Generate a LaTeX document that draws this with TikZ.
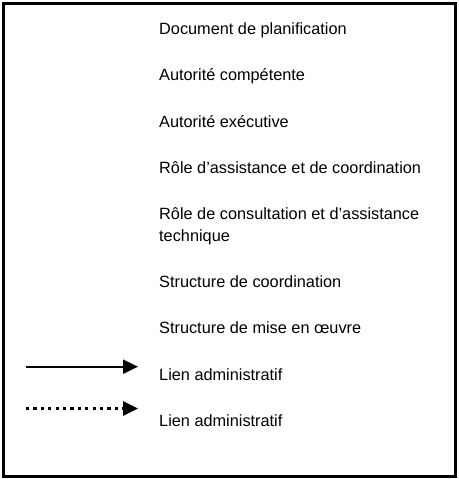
\documentclass[tikz,border=0pt]{standalone}
\usepackage{fontspec}
\setmainfont{Liberation Sans}
\usetikzlibrary{arrows.meta}
\begin{document}
\begin{tikzpicture}[x=1pt,y=-1pt,
  legtext/.style={anchor=base west,inner sep=0pt,font=\fontsize{16.3}{22}\selectfont},
  legarrow/.style={line width=2pt,-{Triangle[length=15pt,width=14pt]}},
  legdots/.style={line width=3pt,dash pattern=on 3.2pt off 4.2pt,-{Triangle[length=15pt,width=14pt]}}]
\useasboundingbox (0,0) rectangle (458,479);
\draw[line width=3pt] (3.5,3.5) rectangle (455,476.5);
\node[legtext] (t1) at (159,34) {Document de planification};
\node[legtext] (t2) at (159,80) {Autorité compétente};
\node[legtext] (t3) at (159,127) {Autorité exécutive};
\node[legtext] (t4) at (159,173) {Rôle d’assistance et de coordination};
\node[legtext] (t5) at (159,219) {Rôle de consultation et d’assistance};
\node[legtext] (t5b) at (159,241) {technique};
\node[legtext] (t6) at (159,287) {Structure de coordination};
\node[legtext] (t7) at (159,333) {Structure de mise en œuvre};
\node[legtext] (t8) at (159,380) {Lien administratif};
\node[legtext] (t9) at (159,426) {Lien administratif};
\coordinate (a1s) at (26,366.7);
\coordinate (a1e) at (138,366.7);
\coordinate (a2s) at (26,408.5);
\coordinate (a2e) at (138,408.5);
\draw[legarrow] (a1s) -- (a1e);
\draw[legdots] (a2s) -- (a2e);
\end{tikzpicture}
\end{document}
